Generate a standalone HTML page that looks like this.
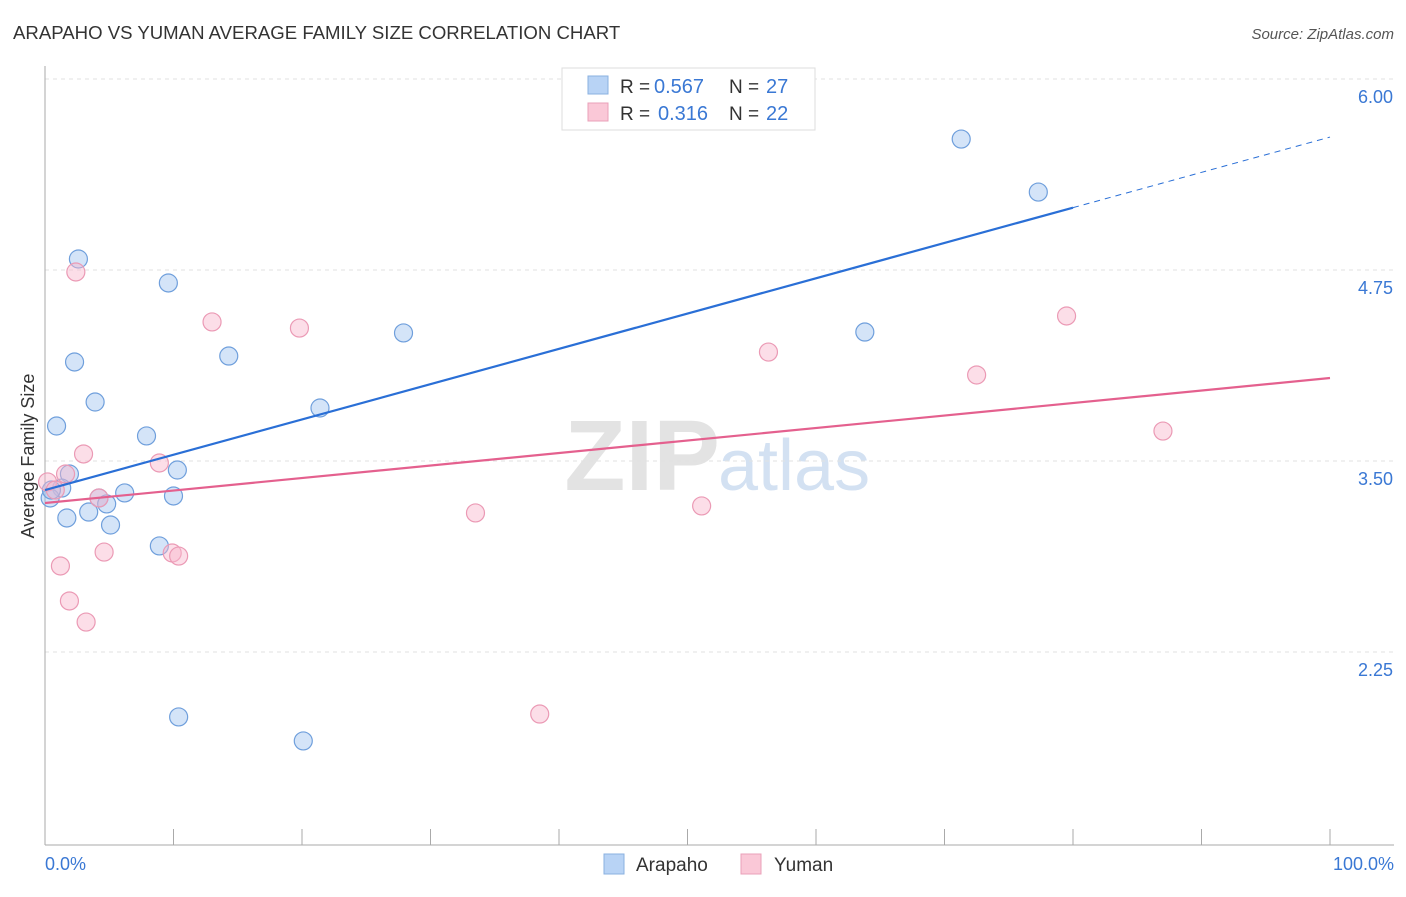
<!DOCTYPE html>
<html><head><meta charset="utf-8"><style>
body{margin:0;background:#fff;font-family:"Liberation Sans",sans-serif}
svg text{font-family:"Liberation Sans",sans-serif}
</style></head><body>
<svg width="1406" height="892" id="c">
<text x="13" y="39" font-size="18.6" fill="#333">ARAPAHO VS YUMAN AVERAGE FAMILY SIZE CORRELATION CHART</text>
<text x="1394" y="39" font-size="15" fill="#555" text-anchor="end" font-style="italic">Source: ZipAtlas.com</text>
<text x="720" y="490" font-size="100" fill="#ddd" text-anchor="end" font-family="Liberation Serif" font-weight="bold" opacity="0.8">ZIP</text>
<text x="718" y="490" font-size="72" fill="#c9daf0" opacity="0.8">atlas</text>
<text transform="translate(34,456) rotate(-90)" font-size="18" fill="#333" text-anchor="middle">Average Family Size</text>
<g id="grid"></g><g id="pts"></g><g id="lines"></g>
<g>
<rect x="562" y="68" width="253" height="62" fill="#fff" stroke="#ddd"/>
<rect x="588" y="76" width="20" height="18" fill="#b8d3f5" stroke="#8ab0e0"/>
<text x="620" y="93" font-size="19" fill="#333">R =</text>
<text x="654" y="93" font-size="20" fill="#3a78d4">0.567</text>
<text x="729" y="93" font-size="19" fill="#333">N =</text>
<text x="766" y="93" font-size="20" fill="#3a78d4">27</text>
<rect x="588" y="103" width="20" height="18" fill="#fac8d7" stroke="#eaa0b8"/>
<text x="620" y="120" font-size="19" fill="#333">R =</text>
<text x="658" y="120" font-size="20" fill="#3a78d4">0.316</text>
<text x="729" y="120" font-size="19" fill="#333">N =</text>
<text x="766" y="120" font-size="20" fill="#3a78d4">22</text>
</g>
<g>
<rect x="604" y="854" width="20" height="20" fill="#b8d3f5" stroke="#8ab0e0"/>
<text x="636" y="871" font-size="19" fill="#333">Arapaho</text>
<rect x="741" y="854" width="20" height="20" fill="#fac8d7" stroke="#eaa0b8"/>
<text x="774" y="871" font-size="19" fill="#333">Yuman</text>
</g>
<text x="45" y="870" font-size="18" fill="#3a78d4">0.0%</text>
<text x="1394" y="870" font-size="18" fill="#3a78d4" text-anchor="end">100.0%</text>
</svg>
<script>
const yTicks=[6.00,4.75,3.50,2.25];
const yTickLabels=["6.00","4.75","3.50","2.25"];
const arapahoX=[2.6,9.6,2.3,14.3,3.9,21.4,27.9,63.8,71.3,77.3,0.9,7.9,10.3,1.9,1.3,0.4,0.5,6.2,4.2,4.8,3.4,1.7,5.1,10.0,8.9,10.4,20.1];
const arapahoY=[4.822,4.665,4.148,4.187,3.886,3.847,4.338,4.344,5.607,5.260,3.729,3.664,3.441,3.415,3.323,3.258,3.310,3.291,3.258,3.219,3.166,3.127,3.081,3.271,2.944,1.825,1.668];
const yumanX=[2.4,13.0,19.8,56.3,72.5,79.5,87.0,3.0,8.9,1.6,0.2,0.8,4.2,33.5,51.1,4.6,9.9,10.4,1.2,1.9,3.2,38.5];
const yumanY=[4.737,4.410,4.370,4.213,4.063,4.449,3.696,3.546,3.487,3.415,3.363,3.310,3.258,3.160,3.206,2.904,2.898,2.878,2.813,2.584,2.446,1.844];
const arapahoTrend=[3.310,5.62]; const arapahoSolidEnd=80;
const yumanTrend=[3.225,4.043];
const sx=v=>45+v*12.85, sy=v=>79+(6-v)*152.8;
const NS="http://www.w3.org/2000/svg";
function mk(t,a,p){const e=document.createElementNS(NS,t);for(const k in a)e.setAttribute(k,a[k]);p.appendChild(e);return e;}
const g=document.getElementById('grid');
yTicks.forEach((v,i)=>{
 const l=mk('line',{x1:45,x2:1394,y1:sy(v),y2:sy(v),stroke:'#e2e2e2','stroke-dasharray':'4,4'},g);
 
 
 const t=mk('text',{x:1393,y:sy(v)+24,'font-size':18,fill:'#3a78d4','text-anchor':'end'},g);
 t.textContent=yTickLabels[i];
 
 
});
const ax=mk('line',{x1:45,x2:45,y1:66,y2:845,stroke:'#aaa'},g);


const bx=mk('line',{x1:45,x2:1394,y1:845,y2:845,stroke:'#aaa'},g);


for(let i=0;i<=10;i++){const t=mk('line',{x1:sx(i*10),x2:sx(i*10),y1:829,y2:845,stroke:'#aaa'},g);
 
 }
const P=document.getElementById('pts');
arapahoX.forEach((x,i)=>{const c=mk('circle',{cx:sx(x),cy:sy(arapahoY[i]),r:9,fill:'rgba(160,196,240,0.45)',stroke:'#6f9fdc','stroke-width':1.2},P);
 
 });
yumanX.forEach((x,i)=>{const c=mk('circle',{cx:sx(x),cy:sy(yumanY[i]),r:9,fill:'rgba(248,182,204,0.45)',stroke:'#eb9ab5','stroke-width':1.2},P);
 
 });
const L=document.getElementById('lines');
const at=x=>arapahoTrend[0]+(arapahoTrend[1]-arapahoTrend[0])*x/100;
let a=mk('line',{x1:sx(0),y1:sy(at(0)),x2:sx(arapahoSolidEnd),y2:sy(at(arapahoSolidEnd)),stroke:'#2a6fd6','stroke-width':2.2},L);


a=mk('line',{x1:sx(arapahoSolidEnd),y1:sy(at(arapahoSolidEnd)),x2:sx(100),y2:sy(at(100)),stroke:'#2a6fd6','stroke-width':1,'stroke-dasharray':'6,5'},L);


a=mk('line',{x1:sx(0),y1:sy(yumanTrend[0]),x2:sx(100),y2:sy(yumanTrend[1]),stroke:'#e4608e','stroke-width':2.2},L);


</script>
</body></html>
